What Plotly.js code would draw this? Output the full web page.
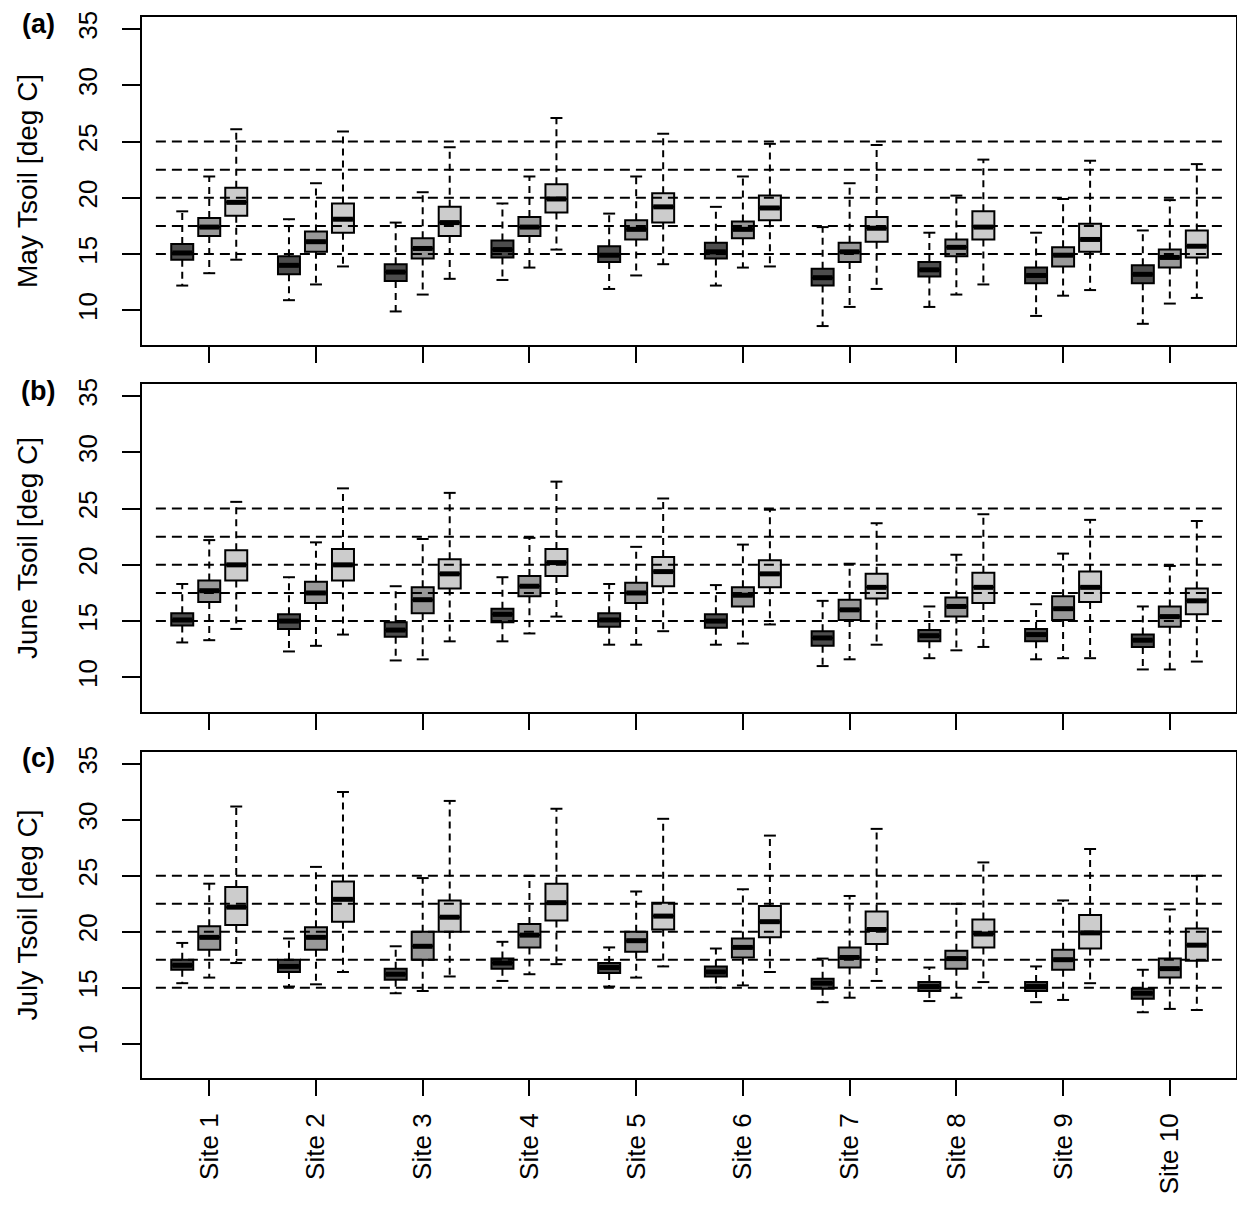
<!DOCTYPE html>
<html><head><meta charset="utf-8">
<script src="https://cdn.plot.ly/plotly-3.0.1.min.js"></script>
<style>html,body{margin:0;padding:0;background:#fff}</style>
</head><body>
<div id="chart" style="width:1237px;height:1208px"></div>
<script>
const sites = ['Site 1','Site 2','Site 3','Site 4','Site 5','Site 6','Site 7','Site 8','Site 9','Site 10'];
const yTicks = [10, 15, 20, 25, 30, 35];
const refLevels = [15, 17.5, 20, 22.5, 25];
const panelLabels = ['(a)', '(b)', '(c)'];
const yTitles = ['May Tsoil [deg C]', 'June Tsoil [deg C]', 'July Tsoil [deg C]'];

// five-number summaries per site: [min, q1, median, q3, max]
const mayA = [[12.2,14.5,15.1,15.9,18.8],[10.9,13.2,14.0,14.8,18.1],[9.9,12.6,13.4,14.1,17.8],[12.7,14.7,15.4,16.2,19.5],[11.9,14.3,14.9,15.7,18.6],[12.2,14.6,15.2,16.0,19.2],[8.6,12.2,12.9,13.7,17.4],[10.3,13.0,13.6,14.3,16.9],[9.5,12.4,13.1,13.8,16.9],[8.8,12.4,13.2,14.0,17.1]];
const mayB = [[13.3,16.6,17.4,18.2,21.9],[12.3,15.2,16.1,17.0,21.3],[11.4,14.6,15.5,16.4,20.5],[13.8,16.6,17.4,18.3,21.9],[13.1,16.3,17.2,18.0,21.9],[13.8,16.4,17.2,17.9,21.9],[10.3,14.3,15.2,16.0,21.3],[11.4,14.8,15.6,16.3,20.2],[11.3,13.9,14.9,15.6,19.9],[10.6,13.8,14.7,15.4,19.8]];
const mayC = [[14.5,18.4,19.6,20.9,26.1],[13.9,16.9,18.1,19.5,25.9],[12.8,16.6,17.8,19.2,24.5],[15.4,18.7,19.9,21.2,27.1],[14.1,17.8,19.2,20.4,25.7],[13.9,18.0,19.1,20.2,24.8],[11.9,16.1,17.3,18.3,24.7],[12.3,16.3,17.4,18.8,23.4],[11.8,15.2,16.3,17.7,23.3],[11.1,14.7,15.7,17.1,23.0]];

const junA = [[13.1,14.6,15.1,15.7,18.3],[12.3,14.3,15.0,15.6,18.9],[11.5,13.6,14.2,14.9,18.1],[13.2,14.9,15.6,16.1,18.9],[12.9,14.5,15.1,15.7,18.3],[12.9,14.4,15.0,15.6,18.2],[11.0,12.8,13.5,14.1,16.8],[11.7,13.2,13.7,14.2,16.3],[11.6,13.2,13.8,14.3,16.5],[10.7,12.7,13.3,13.8,16.3]];
const junB = [[13.3,16.7,17.7,18.6,22.2],[12.8,16.6,17.5,18.5,22.0],[11.6,15.7,16.9,18.0,22.3],[13.9,17.2,18.1,19.0,22.4],[12.9,16.6,17.5,18.4,21.6],[13.0,16.3,17.3,18.0,21.8],[11.6,15.1,16.0,16.9,20.1],[12.4,15.4,16.3,17.1,20.9],[11.7,15.1,16.1,17.2,21.0],[10.7,14.5,15.4,16.3,19.9]];
const junC = [[14.3,18.6,20.0,21.3,25.6],[13.8,18.6,20.0,21.4,26.8],[13.2,17.9,19.2,20.5,26.4],[15.4,19.0,20.2,21.4,27.4],[14.1,18.1,19.4,20.7,25.9],[14.7,18.0,19.2,20.4,24.9],[12.9,17.0,18.0,19.2,23.7],[12.7,16.6,18.0,19.3,24.5],[11.7,16.7,18.0,19.4,24.0],[11.4,15.6,16.8,17.9,23.9]];

const julA = [[15.4,16.6,17.0,17.5,19.0],[15.1,16.4,16.9,17.5,19.4],[14.5,15.7,16.2,16.7,18.7],[15.6,16.7,17.2,17.6,19.1],[15.1,16.3,16.8,17.2,18.6],[15.0,16.0,16.4,16.9,18.5],[13.7,14.9,15.4,15.8,17.6],[13.8,14.7,15.1,15.5,16.8],[13.7,14.7,15.1,15.5,16.9],[12.8,14.0,14.5,14.9,16.6]];
const julB = [[15.9,18.4,19.5,20.5,24.3],[15.3,18.4,19.5,20.4,25.8],[14.7,17.5,18.7,20.0,24.8],[16.2,18.6,19.7,20.7,25.0],[15.9,18.2,19.2,20.0,23.6],[15.2,17.7,18.6,19.4,23.8],[14.1,16.8,17.7,18.6,23.2],[14.1,16.7,17.6,18.3,22.5],[13.9,16.6,17.5,18.4,22.8],[13.1,15.9,16.7,17.6,22.0]];
const julC = [[17.2,20.6,22.2,24.0,31.2],[16.4,20.9,22.9,24.5,32.5],[16.0,20.0,21.3,22.8,31.7],[17.1,21.0,22.6,24.3,31.0],[16.9,20.2,21.4,22.6,30.1],[16.4,19.5,20.9,22.3,28.6],[15.6,18.9,20.2,21.8,29.2],[15.5,18.6,19.8,21.1,26.2],[15.4,18.5,19.9,21.5,27.4],[13.0,17.4,18.8,20.3,25.0]];

const panels = [[mayA, mayB, mayC], [junA, junB, junC], [julA, julB, julC]];

// styling / layout constants
const fills = ['#4d4d4d', '#999999', '#cccccc'];
const offsets = [-0.253, 0, 0.253];
const boxW = 0.206, capHalf = 0.056;
const FONT = 'Liberation Sans, Arial, Helvetica, sans-serif';
const domains = [[0.6909, 1.0], [0.345, 0.6541], [0, 0.3073]];
const labelY = [0.9934, 0.6475, 0.3016];

const traces = [];
const shapes = [];
const annotations = [];
const layout = {
  width: 1237, height: 1208,
  margin: {l: 142, r: 1, t: 17, b: 130},
  paper_bgcolor: '#fff', plot_bgcolor: '#fff',
  showlegend: false,
  font: {family: FONT, color: '#000'},
};

panels.forEach((series, p) => {
  const xa = p === 0 ? 'x' : 'x' + (p + 1);
  const ya = p === 0 ? 'y' : 'y' + (p + 1);
  series.forEach((data, k) => {
    const xs = data.map((_, i) => i + offsets[k]);
    const wx = [], wy = [], cx = [], cy = [], mx = [], my = [];
    data.forEach((d, i) => {
      const c = xs[i];
      wx.push(c, c, null, c, c, null);
      wy.push(d[3], d[4], null, d[1], d[0], null);
      cx.push(c - capHalf, c + capHalf, null, c - capHalf, c + capHalf, null);
      cy.push(d[4], d[4], null, d[0], d[0], null);
      mx.push(c - boxW / 2 + 0.01, c + boxW / 2 - 0.01, null);
      my.push(d[2], d[2], null);
    });
    traces.push({type: 'scatter', mode: 'lines', x: wx, y: wy, xaxis: xa, yaxis: ya,
      line: {color: '#000', width: 2, dash: '7px,5px'}, hoverinfo: 'skip'});
    traces.push({type: 'scatter', mode: 'lines', x: cx, y: cy, xaxis: xa, yaxis: ya,
      line: {color: '#000', width: 2}, hoverinfo: 'skip'});
    traces.push({type: 'box', x: xs, xaxis: xa, yaxis: ya,
      q1: data.map(d => d[1]), median: data.map(d => d[2]), q3: data.map(d => d[3]),
      lowerfence: data.map(d => d[1]), upperfence: data.map(d => d[3]),
      width: boxW, whiskerwidth: 0, fillcolor: fills[k],
      line: {color: '#000', width: 2}, boxpoints: false});
    traces.push({type: 'scatter', mode: 'lines', x: mx, y: my, xaxis: xa, yaxis: ya,
      line: {color: '#000', width: 5}, hoverinfo: 'skip'});
  });

  refLevels.forEach(v => {
    shapes.push({type: 'line', xref: xa, yref: ya, x0: -0.5, x1: 9.5, y0: v, y1: v,
      layer: 'above', line: {color: '#000', width: 2, dash: '10px,6px'}});
  });

  const xkey = p === 0 ? 'xaxis' : 'xaxis' + (p + 1);
  const ykey = p === 0 ? 'yaxis' : 'yaxis' + (p + 1);
  layout[xkey] = {
    anchor: ya, domain: [0, 1], range: [-0.63, 9.62],
    tickmode: 'array', tickvals: sites.map((_, i) => i), ticktext: sites,
    showticklabels: p === 2, tickangle: -90,
    tickfont: {family: FONT, size: 26, color: '#000'},
    ticks: 'outside', ticklen: 16, tickwidth: 2, tickcolor: '#000',
    showline: true, mirror: true, linecolor: '#000', linewidth: 2,
    showgrid: false, zeroline: false, ticklabelstandoff: 7,
  };
  layout[ykey] = {
    anchor: xa, domain: domains[p], range: [6.92, 36.08],
    tickmode: 'array', tickvals: yTicks, ticktext: yTicks.map(String),
    tickangle: -90, tickfont: {family: FONT, size: 26, color: '#000'},
    ticks: 'outside', ticklen: 18, tickwidth: 2, tickcolor: '#000',
    showline: true, mirror: true, linecolor: '#000', linewidth: 2,
    showgrid: false, zeroline: false, ticklabelstandoff: 15,
    title: {text: yTitles[p], font: {family: FONT, size: 28, color: '#000'}, standoff: 27},
  };
  annotations.push({xref: 'paper', yref: 'paper', x: -0.095, y: labelY[p],
    xanchor: 'center', yanchor: 'middle', showarrow: false,
    text: '<b>' + panelLabels[p] + '</b>', font: {family: FONT, size: 27, color: '#000'}});
});

layout.shapes = shapes;
layout.annotations = annotations;

Plotly.newPlot('chart', traces, layout, {displayModeBar: false, staticPlot: true});
</script>
</body></html>
